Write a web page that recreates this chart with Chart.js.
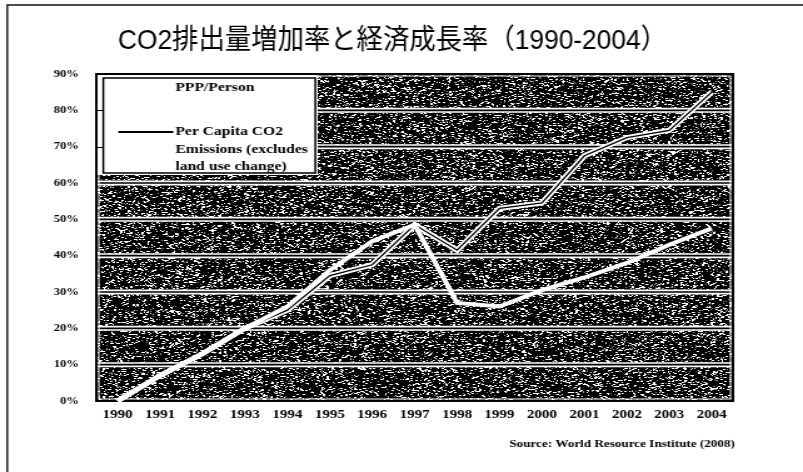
<!DOCTYPE html>
<html>
<head>
<meta charset="utf-8">
<script src="https://cdn.jsdelivr.net/npm/chart.js@4.4.1/dist/chart.umd.min.js"></script>
<style>
html,body{margin:0;padding:0;background:#fff;overflow:hidden}
#c{display:block;width:803px;height:472px}
</style>
</head>
<body>
<canvas id="c" width="642" height="472" style="width:803px;height:472px"></canvas>
<script>
// ---- data ----
const years = ['1990','1991','1992','1993','1994','1995','1996','1997','1998','1999','2000','2001','2002','2003','2004'];
const pppPerPerson = [0, 7, 13, 20, 26, 36, 44, 48.5, 27, 26, 30.5, 34, 38, 43, 47.5];
const co2PerCapita = [0, 7, 13, 20, 25, 34.5, 37.5, 48.5, 41.5, 53, 54.5, 67.5, 72.5, 74.5, 85];
const yTickValues = [0, 10, 20, 30, 40, 50, 60, 70, 80, 90];
const seriesNames = ['PPP/Person', 'Per Capita CO2 Emissions (excludes land use change)'];
const legendTextLines = [['PPP/Person'], ['Per Capita CO2', 'Emissions (excludes', 'land use change)']];
const titleText = 'CO2排出量増加率と経済成長率（1990-2004）';
const sourceText = 'Source: World Resource Institute (2008)';

const SERIF = '"Liberation Serif", "Times New Roman", "DejaVu Serif", serif';
const TITLE_FONT = '"Liberation Sans", Arial, "Noto Sans CJK JP", sans-serif';

function hash(x, y, s) {
  let n = Math.imul(x, 374761393) ^ Math.imul(y, 668265263) ^ Math.imul(s, 2246822519);
  n = Math.imul(n ^ (n >>> 13), 1274126177);
  n = n ^ (n >>> 16);
  return (n >>> 0) / 4294967296;
}

let noiseCanvas = null;
function getNoise(w, h) {
  if (noiseCanvas && noiseCanvas.width === w && noiseCanvas.height === h) return noiseCanvas;
  const c = document.createElement('canvas');
  c.width = w; c.height = h;
  const g = c.getContext('2d');
  const img = g.createImageData(w, h);
  const d = img.data;
  for (let i = 0; i < w * h; i++) { d[i*4] = 0; d[i*4+1] = 0; d[i*4+2] = 0; d[i*4+3] = 255; }
  for (let y = 0; y < h; y++) {
    for (let x = 0; x < w; x++) {
      const r = hash(x, y, 7);
      if (r < 0.12) {
        const len = 1 + Math.floor(hash(x, y, 13) * 2);
        for (let k = 0; k < len && x + k < w; k++) {
          const p = (y * w + x + k) * 4;
          d[p] = d[p+1] = d[p+2] = 255;
        }
      } else if (r < 0.17) {
        const p = (y * w + x) * 4;
        if (d[p] === 0) { d[p] = d[p+1] = d[p+2] = 140; }
      }
    }
  }
  g.putImageData(img, 0, 0);
  noiseCanvas = c;
  return c;
}

const decor = {
  id: 'decor',
  beforeDraw(chart) {
    const ctx = chart.ctx;
    ctx.save();
    ctx.fillStyle = '#fff';
    ctx.fillRect(0, 0, chart.width, chart.height);
    // outer frame (left & top)
    ctx.strokeStyle = '#111';
    ctx.lineWidth = 1.4;
    ctx.beginPath();
    ctx.moveTo(5.8, chart.height);
    ctx.lineTo(5.8, 5);
    ctx.lineTo(chart.width, 5);
    ctx.stroke();
    // title (horizontally fitted)
    ctx.fillStyle = '#000';
    ctx.font = '28px ' + TITLE_FONT;
    ctx.textAlign = 'center';
    ctx.textBaseline = 'middle';
    const w = ctx.measureText(titleText).width;
    const target = 439;
    ctx.translate(313.8, 41);
    ctx.scale(target / w, 1);
    ctx.fillText(titleText, 0, 0);
    ctx.restore();
    // source
    ctx.save();
    ctx.fillStyle = '#000';
    ctx.font = 'bold 10.5px ' + SERIF;
    ctx.textAlign = 'right';
    ctx.textBaseline = 'middle';
    ctx.fillText(sourceText, 587.6, 444);
    ctx.restore();
  },
  beforeDatasetsDraw(chart) {
    const ctx = chart.ctx;
    const a = chart.chartArea;
    const ys = chart.scales.y;
    const L = Math.round(a.left), T = Math.round(a.top);
    const W = Math.round(a.right) - L, H = Math.round(a.bottom) - T;
    ctx.save();
    ctx.drawImage(getNoise(W, H), L, T);
    // double white gridlines
    yTickValues.forEach(v => {
      if (v === yTickValues[0] || v === yTickValues[yTickValues.length - 1]) return;
      const y = ys.getPixelForValue(v);
      ctx.strokeStyle = '#fff';
      ctx.lineWidth = 5;
      ctx.beginPath(); ctx.moveTo(a.left, y); ctx.lineTo(a.right, y); ctx.stroke();
      ctx.strokeStyle = '#000';
      ctx.lineWidth = 1.6;
      ctx.beginPath(); ctx.moveTo(a.left, y); ctx.lineTo(a.right, y); ctx.stroke();
    });
    // border
    ctx.strokeStyle = '#fff';
    ctx.lineWidth = 1;
    ctx.strokeRect(a.left + 2, a.top + 2, a.right - a.left - 4, a.bottom - a.top - 4);
    ctx.strokeStyle = '#000';
    ctx.lineWidth = 2;
    ctx.strokeRect(a.left, a.top, a.right - a.left, a.bottom - a.top);
    ctx.restore();
  },
  beforeDatasetDraw(chart, args) {
    if (args.index !== 1) return;
    const pts = args.meta.data;
    const ctx = chart.ctx;
    ctx.save();
    ctx.strokeStyle = '#fff';
    ctx.lineWidth = 5;
    ctx.lineJoin = 'miter';
    ctx.beginPath();
    pts.forEach((p, i) => { if (i === 0) ctx.moveTo(p.x, p.y); else ctx.lineTo(p.x, p.y); });
    ctx.stroke();
    ctx.restore();
  },
  afterDatasetsDraw(chart) {
    const ctx = chart.ctx;
    const a = chart.chartArea;
    const ys = chart.scales.y;
    const L = a.left, T = a.top;
    ctx.save();
    // white legend region
    ctx.fillStyle = '#fff';
    ctx.fillRect(L + 1, T + 1, 176, 100);
    // short gridline stubs left of box
    ctx.strokeStyle = '#000';
    ctx.lineWidth = 1;
    [70, 80].forEach(v => {
      const y = Math.round(ys.getPixelForValue(v)) + 0.5;
      ctx.beginPath(); ctx.moveTo(L, y); ctx.lineTo(L + 5.6, y); ctx.stroke();
    });
    // legend box
    ctx.lineWidth = 1.5;
    ctx.strokeRect(L + 5.6, T + 4, 169.5, 95);
    // outline around plot again where covered
    ctx.lineWidth = 2;
    ctx.beginPath(); ctx.moveTo(L, T + 102); ctx.lineTo(L, T); ctx.lineTo(L + 178, T); ctx.stroke();
    // legend entries
    ctx.fillStyle = '#000';
    ctx.font = 'bold 12.5px ' + SERIF;
    ctx.textAlign = 'left';
    ctx.textBaseline = 'middle';
    const tx = L + 63.2;
    ctx.fillText(legendTextLines[0][0], tx, T + 14);
    // series 2 sample line (series 1 is white on white)
    ctx.strokeStyle = '#000';
    ctx.lineWidth = 1.8;
    ctx.beginPath(); ctx.moveTo(L + 17.6, T + 58); ctx.lineTo(L + 61.6, T + 58); ctx.stroke();
    const rows = [58, 75.5, 93];
    legendTextLines[1].forEach((s, i) => ctx.fillText(s, tx, T + rows[i]));
    ctx.restore();
  }
};

const chart = new Chart(document.getElementById('c'), {
  type: 'line',
  data: {
    labels: years,
    datasets: [
      {
        label: seriesNames[0],
        data: pppPerPerson,
        borderColor: '#ffffff',
        borderWidth: 4,
        pointRadius: 0,
        tension: 0,
        fill: false
      },
      {
        label: seriesNames[1],
        data: co2PerCapita,
        borderColor: '#000000',
        borderWidth: 1.3,
        pointRadius: 0,
        tension: 0,
        fill: false
      }
    ]
  },
  options: {
    responsive: false,
    devicePixelRatio: 1,
    animation: false,
    layout: { padding: { top: 74, right: 56, bottom: 0, left: 0 } },
    plugins: {
      legend: { display: false },
      title: { display: false },
      tooltip: { enabled: false }
    },
    scales: {
      x: {
        type: 'category',
        offset: true,
        grid: { display: false, drawTicks: false },
        border: { display: false },
        ticks: {
          color: '#000',
          font: { family: SERIF, weight: 'bold', size: 12 },
          padding: 7,
          maxRotation: 0,
          autoSkip: false
        },
        afterFit(s) { s.height = 71; }
      },
      y: {
        min: 0,
        max: 90,
        grid: { display: false, drawTicks: false },
        border: { display: false },
        ticks: {
          stepSize: 10,
          color: '#000',
          font: { family: SERIF, weight: 'bold', size: 10 },
          padding: 14,
          callback: v => v + '%'
        },
        afterFit(s) { s.width = 77; }
      }
    }
  },
  plugins: [decor]
});
const cv = document.getElementById('c');
cv.style.width = '803px';
cv.style.height = '472px';
</script>
</body>
</html>
